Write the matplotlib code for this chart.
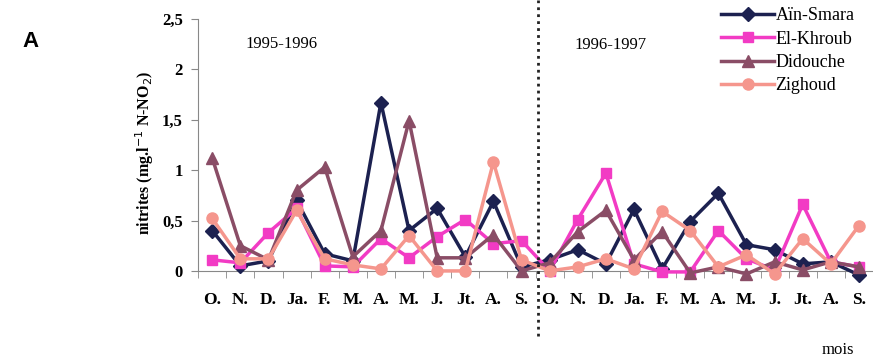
import matplotlib
matplotlib.use("Agg")
import matplotlib.pyplot as plt
import numpy as np

months = ["O.", "N.", "D.", "Ja.", "F.", "M.", "A.", "M.", "J.", "Jt.", "A.", "S.",
          "O.", "N.", "D.", "Ja.", "F.", "M.", "A.", "M.", "J.", "Jt.", "A.", "S."]

ain_smara = [0.40, 0.05, 0.10, 0.70, 0.17, 0.10, 1.67, 0.40, 0.62, 0.14, 0.69, 0.04,
             0.11, 0.21, 0.07, 0.61, 0.02, 0.49, 0.77, 0.26, 0.21, 0.07, 0.09, -0.04]
el_khroub = [0.11, 0.08, 0.38, 0.62, 0.05, 0.04, 0.32, 0.13, 0.34, 0.51, 0.27, 0.30,
             0.00, 0.51, 0.97, 0.07, -0.01, -0.01, 0.40, 0.12, 0.01, 0.66, 0.09, 0.04]
didouche = [1.12, 0.25, 0.11, 0.80, 1.03, 0.14, 0.40, 1.49, 0.13, 0.13, 0.36, 0.00,
            0.08, 0.39, 0.60, 0.11, 0.39, -0.02, 0.04, -0.03, 0.09, 0.01, 0.09, 0.04]
zighoud = [0.52, 0.12, 0.12, 0.60, 0.12, 0.06, 0.02, 0.35, 0.00, 0.00, 1.08, 0.11,
           0.00, 0.04, 0.12, 0.02, 0.59, 0.40, 0.04, 0.16, -0.03, 0.32, 0.07, 0.45]

series = [
    ("Aïn-Smara", ain_smara, "#1c2150", "D", 7),
    ("El-Khroub", el_khroub, "#f23bc4", "s", 7.5),
    ("Didouche", didouche, "#8a4d66", "^", 8),
    ("Zighoud", zighoud, "#f5968d", "o", 8),
]

plt.rcParams["font.family"] = ["Liberation Serif", "DejaVu Serif"]

fig = plt.figure(figsize=(8.73, 3.63), dpi=100)
ax = fig.add_axes([0.227, 0.212, 0.773, 0.736])

# spines first: moving a spine resets the ticks
for side in ["top", "right"]:
    ax.spines[side].set_visible(False)
ax.spines["bottom"].set_position(("data", 0))
ax.spines["bottom"].set_color("#888888")
ax.spines["left"].set_color("#888888")

x = np.arange(len(months))
for name, vals, color, marker, ms in series:
    ax.plot(x, vals, color=color, marker=marker, markersize=ms, linewidth=2.5,
            label=name, markeredgecolor=color, zorder=3)

ax.set_xlim(-0.5, 23.45)
ax.set_ylim(-0.15, 2.5)
ax.spines["left"].set_bounds(0, 2.5)
ax.set_yticks([0, 0.5, 1, 1.5, 2, 2.5])
ax.set_yticklabels(["0", "0,5", "1", "1,5", "2", "2,5"], fontsize=12, fontweight="bold")
ax.set_xticks(x)
ax.set_xticklabels(months, fontsize=12.5, fontweight="bold")
ax.tick_params(axis="x", length=0, pad=15)
ax.set_xticks(np.arange(-0.5, 24, 1), minor=True)
ax.tick_params(axis="x", which="minor", direction="out", length=5, color="#888888")
ax.tick_params(axis="y", direction="out", length=5, color="#888888", pad=6)

# boundary between the two hydrological years
ax.plot([11.6, 11.6], [-0.187, 1.07], transform=ax.get_xaxis_transform(),
        color="#222222", linestyle=(0, (1, 1.5)), linewidth=2, clip_on=False, zorder=4)

ax.text(2.45, 2.25, "1995-1996", fontsize=12, ha="center", va="center")
ax.text(14.15, 2.24, "1996-1997", fontsize=12, ha="center", va="center")

ax.set_ylabel("nitrites (mg.l$^{-1}$ N-NO$_2$)", fontsize=11.5, fontweight="bold",
              labelpad=4)

leg = ax.legend(loc="upper left", bbox_to_anchor=(0.818, 1.0), bbox_transform=fig.transFigure,
                frameon=False, fontsize=13, handlelength=2.9, handletextpad=0.1,
                labelspacing=0.35, borderaxespad=0)

fig.text(0.026, 0.885, "A", fontsize=16, fontweight="bold", family="Liberation Sans",
         ha="left", va="center")
fig.text(0.96, 0.036, "mois", fontsize=12, ha="center", va="center")

fig.savefig("out.png", dpi=100)
